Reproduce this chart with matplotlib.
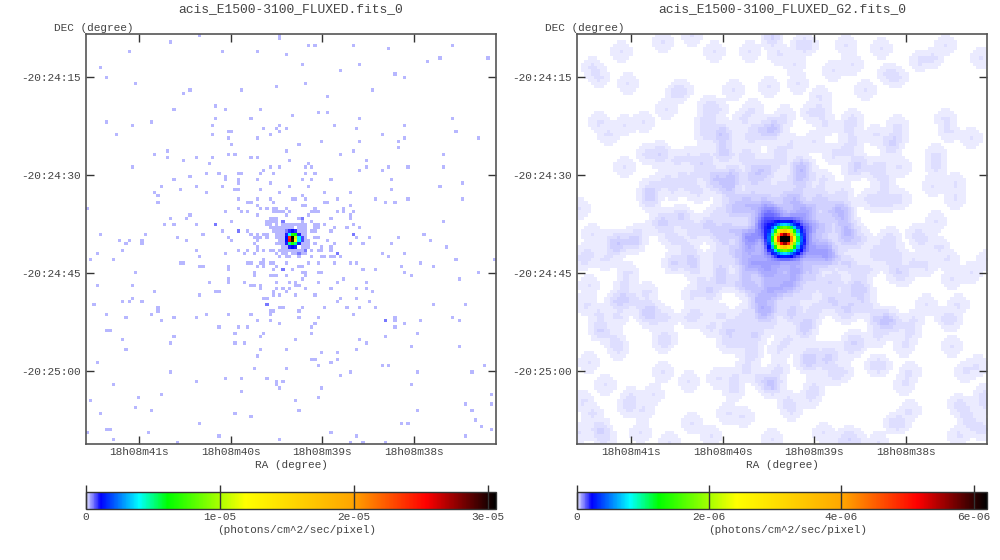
import numpy as np
import matplotlib
matplotlib.use('Agg')
import matplotlib.pyplot as plt
from matplotlib.colors import LinearSegmentedColormap, Normalize
from matplotlib.cm import ScalarMappable

# image cells with one count (col, row from the top)
single_hits = [
    (35,0),(60,0),(60,1),(26,2),(13,5),(42,5),(53,5),(62,6),(4,10),(6,13),(15,15),(59,16),(32,17),(30,18),(48,17),
    (27,23),(40,22),(43,23),(54,23),(6,27),(20,27),(14,28),(40,26),(51,26),(39,28),(55,29),(59,29),(60,28),(62,29),
    (44,30),(45,30),(60,30),(9,31),(39,31),(57,31),(44,32),(53,32),(45,34),(25,36),(62,36),(21,37),(44,37),(46,37),
    (25,38),(34,38),(39,38),(51,38),(53,38),(30,39),(38,40),(14,41),(55,42),(57,41),(60,41),(37,43),(41,43),(47,43),
    (48,43),(54,43),(58,43),(32,44),(43,44),(43,45),(27,45),(47,45),(47,46),(53,45),(23,47),(34,47),(42,47),(57,46),
    (29,48),(46,48),(47,48),(54,48),(21,49),(37,49),(60,49),(22,50),(47,51),(53,51),(50,52),(51,52),(57,51),(58,52),
    (22,52),(53,53),(0,54),(47,54),(54,54),(56,54),(58,54),(59,54),(62,54),(43,55),(48,55),(50,55),(58,55),(59,55),
    (60,55),(61,55),(62,56),(53,56),(32,56),(26,57),(31,57),(57,57),(45,58),(24,59),(27,59),(34,59),(56,58),(57,59),
    (56,59),(59,59),(61,59),(62,59),(57,60),(58,60),(59,60),(60,60),(42,61),(50,61),(51,62),(53,62),(55,62),(56,62),
    (4,62),(18,62),(28,63),(36,62),(44,63),(45,64),(52,63),(53,63),(54,63),(56,63),
    (10,64),(12,65),(13,64),(17,64),(17,65),(31,64),(52,65),(53,64),(53,66),(53,67),(3,68),(11,67),(34,67),(43,68),
    (47,67),(49,68),(50,67),(52,68),(55,67),(57,67),(58,67),(59,68),(60,69),(35,69),(1,70),(8,70),(29,71),(30,71),
    (50,71),(51,71),(54,71),(55,70),(55,71),(57,71),(58,71),(62,71),(35,72),(36,72),(44,72),(44,73),(53,72),(55,72),
    (59,72),(58,73),(15,74),(52,74),(52,75),(57,75),(58,75),(59,75),(62,75),(44,76),(44,77),(38,77),(49,77),(59,77),
    (3,78),(14,78),(51,78),(52,78),(54,78),(54,79),(59,79),(61,79),(21,80),(40,80),(41,80),(58,80),(58,81),(60,81),
    (62,80),(35,81),(14,82),(11,83),(13,83),(17,83),(55,82),(56,82),(2,84),(22,85),(22,86),(60,85),(61,85),(57,86),
    (58,86),(57,87),(6,87),(20,87),(37,87),(44,87),(51,87),(12,88),(27,88),(34,88),(23,89),(53,89),(57,89),(60,90),
    (41,91),(47,91),(50,91),(6,92),(7,92),(46,93),(55,93),(27,94),(54,94),(11,95),(26,96),(46,96),(49,96),(12,98),
    (54,98),(62,98),(53,100),(3,102),(52,104),(62,104),(26,105),(43,107),(48,107),(56,107),(34,108),(59,108),(59,109),
    (61,108),(8,109),(60,110),(48,111),(23,112),(16,113),(1,114),(15,116),(20,117),(4,118),(46,118),(51,119),(35,121),
    (6,123),(7,123),(0,124),(19,124),(41,125),(8,126),(60,126),(28,127),
    (69,3),(71,3),(83,3),(94,4),(114,3),(110,7),(125,7),(106,8),(67,9),(85,9),(79,11),(96,12),(99,13),(68,15),(89,17),
    (75,19),(72,24),(75,24),(64,25),(85,26),(114,26),(77,28),(99,28),(84,29),(115,30),(92,31),(99,32),(122,32),(73,33),
    (85,33),(97,33),(66,34),(97,35),(83,36),(79,37),(111,37),(87,39),(63,39),(69,40),(68,41),(70,41),(87,41),(94,41),
    (100,41),(111,41),(85,42),(92,42),(68,43),(71,43),(67,45),(70,45),(76,45),(95,45),(117,46),(63,47),(69,47),(110,47),
    (95,48),(74,49),(82,49),(67,50),(64,51),(65,51),(68,51),(78,51),(90,51),(100,51),(117,51),(74,52),(75,52),(93,52),
    (96,52),(67,53),(68,53),(82,53),(71,54),(80,54),(63,55),(70,55),(71,55),(72,55),(78,55),(80,55),(83,55),(69,56),
    (82,56),(82,57),(76,57),(70,58),(111,58),(63,59),(64,59),(65,59),(68,59),(71,59),(72,59),(74,59),(83,59),(66,60),
    (67,60),(68,60),(71,60),(72,60),(77,60),(81,60),(85,60),(63,60),(64,60),(70,61),(71,61),(76,61),(67,61),(67,62),
    (105,62),(84,63),(88,63),(97,63),(107,64),(75,64),(71,63),(72,63),(67,63),(68,63),
    (82,65),(86,65),(95,65),(112,66),(92,68),(99,68),(94,69),(79,69),(77,65),(73,66),(72,67),(73,67),(76,66),(76,67),
    (69,65),(69,66),(71,65),(70,67),(70,69),(73,69),(74,69),(76,69),(77,69),(115,70),(127,70),(69,71),(72,71),(77,71),
    (82,71),(84,71),(104,71),(98,72),(108,72),(66,72),(67,72),(86,73),(90,73),(64,73),(67,74),(68,74),(68,75),(72,74),
    (73,74),(99,74),(101,75),(122,74),(67,76),(80,76),(116,76),(63,77),(65,77),(72,77),(78,77),(87,77),(65,78),(66,78),
    (63,79),(68,79),(76,79),(84,79),(87,79),(89,80),(65,81),(71,81),(79,82),(84,82),(78,83),(88,83),(108,84),(118,84),
    (67,85),(66,86),(74,85),(81,85),(85,85),(90,85),(83,87),(66,88),(72,88),(96,88),(96,89),(104,89),(114,88),(116,89),
    (71,90),(99,90),(70,91),(96,91),(70,93),(103,93),(93,94),(65,95),(85,95),(87,96),(101,97),(116,97),(84,98),(73,99),
    (78,99),(70,101),(71,101),(78,101),(76,102),(72,103),(92,103),(94,103),(124,103),(82,105),(103,105),(120,105),
    (79,106),(101,109),(73,110),(72,113),(126,112),(65,114),(118,115),(126,115),(66,117),(103,117),(120,117),(121,120),
    (98,121),(100,121),(123,122),(126,123),(76,124),(84,125),(118,125),(82,127),(86,127),(93,127),
    # dense part around the source
    (58,57),(59,57),(66,57),(57,58),(58,58),(59,58),(67,58),(56,59),(61,59),(62,59),(66,59),(67,59),
    (57,60),(58,60),(61,60),(62,60),(58,61),(59,61),(60,61),(61,61),(66,61),(68,61),
    (59,62),(60,62),(61,62),(68,62),(59,63),(60,63),(61,63),(60,64),(61,64),(68,64),(69,64),
    (59,65),(60,65),(61,65),(67,65),(68,65),(61,66),(62,66),(67,66),(68,66),
    (60,67),(61,67),(62,67),(63,67),(64,67),(65,67),(66,67),(67,67),(61,68),(62,68),(64,68),(65,68),(67,68),(68,68),
    (62,69),(63,69),(66,69),
]
# cells with two counts
double_hits = [(40,59),(47,61),(61,73),(56,84),(78,68),(83,62),(67,57),(68,67),(93,89),(66,68),(62,61),(61,58)]

# the source itself
core_cols = [63,64,65, 62,63,64,65,66, 62,63,64,65,66,67, 62,63,64,65,66,67, 62,63,64,65,66, 63,64,65]
core_rows = [61,61,61, 62,62,62,62,62, 63,63,63,63,63,63, 64,64,64,64,64,64, 65,65,65,65,65, 66,66,66]
core_vals = [0.9e-6,1.2e-6,0.9e-6,
             1.0e-6,4e-6,7e-6,6e-6,1e-6,
             1.2e-6,2.4e-5,3.05e-5,1.1e-5,4e-6,0.8e-6,
             1.2e-6,2.5e-5,3.0e-5,1.2e-5,4e-6,0.8e-6,
             1e-6,5e-6,7e-6,5e-6,1e-6,
             1e-6,1.2e-6,1e-6]

count_value = 2.8e-7

# weights of the G2 smoothing by distance in cells, and the level where the right panel turns white
g2_weights = [0.2216, 0.1894, 0.1183, 0.0541, 0.0181, 0.0044, 0.0008]
g2_floor = 2.6e-9

cmap_pos = [0.0, 0.036, 0.13, 0.2, 0.39, 0.65, 0.83, 1.0]
cmap_cols = ['#ebebff', '#0000ff', '#00ffff', '#00ff00', '#ffff00', '#ffa500', '#ff0000', '#000000']

ra_ticks = [16.1, 44.7, 73.3, 101.9]
ra_labels = ['18h08m41s', '18h08m40s', '18h08m39s', '18h08m38s']
dec_ticks = [13.0, 43.5, 74.2, 104.7]
dec_labels = ['-20:24:15', '-20:24:30', '-20:24:45', '-20:25:00']

titles = ['acis_E1500-3100_FLUXED.fits_0', 'acis_E1500-3100_FLUXED_G2.fits_0']
cbar_max = [3.06e-5, 6.2e-6]
cbar_ticks = [[0, 1e-5, 2e-5, 3e-5], [0, 2e-6, 4e-6, 6e-6]]
cbar_labels = [['0', '1e-05', '2e-05', '3e-05'], ['0', '2e-06', '4e-06', '6e-06']]

plt.rcParams['font.family'] = 'Liberation Mono'
W, H = 1000.0, 560.0
GRAY = '#555555'
TXT = '#444444'

img = np.zeros((128, 128))
for c, r in single_hits:
    img[r, c] = count_value
for c, r in double_hits:
    img[r, c] = 2 * count_value
img[core_rows, core_cols] = core_vals

w = np.array(g2_weights[:0:-1] + g2_weights)
smooth = np.apply_along_axis(lambda v: np.convolve(v, w, mode='same'), 0, img)
smooth = np.apply_along_axis(lambda v: np.convolve(v, w, mode='same'), 1, smooth)

cmap = LinearSegmentedColormap.from_list('ds9ish', list(zip(cmap_pos, cmap_cols)), N=512)
cmap.set_bad('white')

fig = plt.figure(figsize=(10, 5.6), dpi=100, facecolor='w')


def px_axes(x0, y0, x1, y1):
    return fig.add_axes([x0 / W, 1 - y1 / H, (x1 - x0) / W, (y1 - y0) / H])


panels = [
    (86, np.ma.masked_where(img <= 0, img), (-0.5, 127.5)),
    (577, np.ma.masked_where(smooth <= g2_floor, smooth), (-0.8, 127.2)),
]
for i, (x0, data, xlim) in enumerate(panels):
    ax = px_axes(x0, 34, x0 + 410, 444)
    norm = Normalize(0, cbar_max[i])
    ax.imshow(data, cmap=cmap, norm=norm, interpolation='nearest', aspect='auto')
    ax.set_xlim(*xlim)
    ax.set_ylim(127.5, -0.5)
    ax.set_xticks(ra_ticks)
    ax.set_xticklabels(ra_labels)
    ax.set_yticks(dec_ticks)
    ax.set_yticklabels(dec_labels)
    ax.tick_params(direction='in', length=6, width=1, color='#333333', top=True, right=True,
                   labelsize=8, labelcolor=TXT, pad=4)
    ax.tick_params(axis='x', pad=2)
    for s in ax.spines.values():
        s.set_color(GRAY)
        s.set_linewidth(1.2)

    cx = x0 + 205
    fig.text(cx / W, 1 - 9 / H, titles[i], ha='center', va='center', fontsize=9.4, color=TXT)
    fig.text((x0 - 32) / W, 1 - 28 / H, 'DEC (degree)', ha='left', va='center', fontsize=8, color=TXT)
    fig.text(cx / W, 1 - 465 / H, 'RA (degree)', ha='center', va='center', fontsize=8, color=TXT)
    fig.text((cx + 6) / W, 1 - 530 / H, '(photons/cm^2/sec/pixel)', ha='center', va='center', fontsize=8, color=TXT)

    cax = px_axes(x0 - 0.5, 492, x0 + 410, 509)
    cb = fig.colorbar(ScalarMappable(norm=norm, cmap=cmap), cax=cax, orientation='horizontal')
    cb.set_ticks(cbar_ticks[i])
    cb.set_ticklabels(cbar_labels[i])
    cax.tick_params(direction='in', length=17, width=1, color='#333333', labelsize=8, labelcolor=TXT, pad=2)
    cb.outline.set_edgecolor('#333333')
    cb.outline.set_linewidth(1)

fig.savefig('out.png', dpi=100)
